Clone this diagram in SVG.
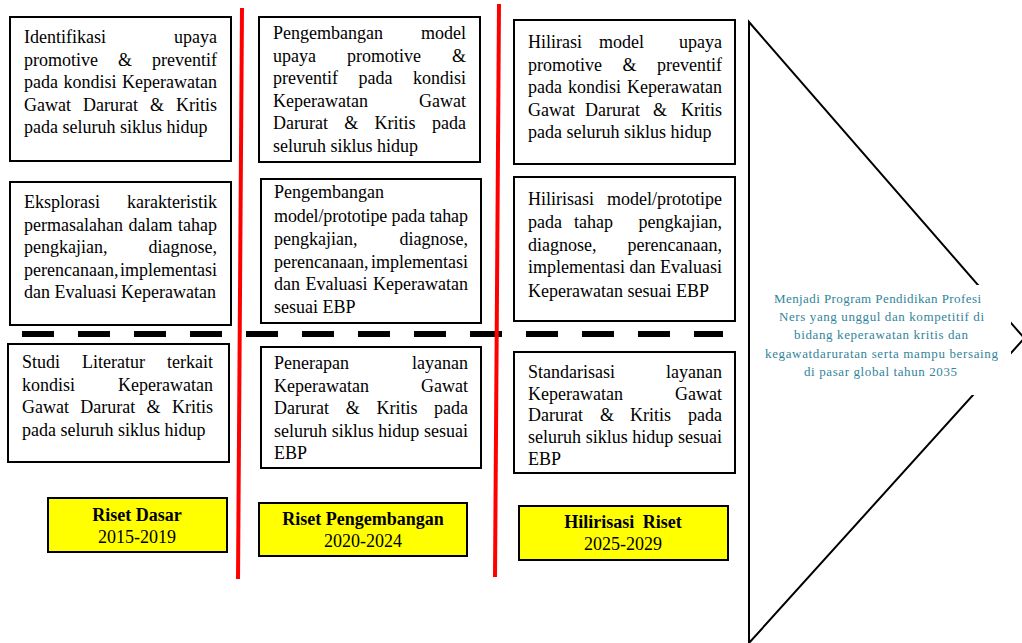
<svg xmlns="http://www.w3.org/2000/svg" width="1022" height="643" viewBox="0 0 1022 643">
<style>
.bg{fill:#fff}
.box{fill:#fff;stroke:#000;stroke-width:2}
.ybox{fill:#ffff00;stroke:#000;stroke-width:2}
.t{font-family:"Liberation Serif","Times New Roman",serif;font-size:18px;fill:#000}
.e{text-anchor:end}
.m{text-anchor:middle}
.b{font-weight:bold}
.red{stroke:#ff0000;stroke-width:4;fill:none}
.dash{stroke:#000;stroke-width:6;stroke-dasharray:32 24;fill:none}
.tri{fill:#fff;stroke:#000;stroke-width:2}
.v{font-family:"Liberation Serif","Times New Roman",serif;font-size:13px;fill:#31849b}
</style>
<rect class="bg" x="0" y="0" width="1022" height="643"/>

<g id="dividers">
<line class="dash" x1="22" y1="334" x2="723" y2="334"/>
<line class="red" x1="242" y1="8" x2="238" y2="579"/>
<line class="red" x1="499" y1="4" x2="495" y2="577"/>
</g>

<g id="vision">
<polygon class="tri" points="749,22 1024.3,338.2 749,643"/>
<rect x="752" y="285" width="259" height="110" fill="#fff"/>
<text class="v" x="774" y="303" textLength="207" lengthAdjust="spacing">Menjadi Program Pendidikan Profesi</text>
<text class="v" x="779" y="321" textLength="205" lengthAdjust="spacing">Ners yang unggul dan kompetitif di</text>
<text class="v" x="794" y="339" textLength="174" lengthAdjust="spacing">bidang keperawatan kritis dan</text>
<text class="v" x="765" y="358" textLength="233" lengthAdjust="spacing">kegawatdaruratan serta mampu bersaing</text>
<text class="v" x="804" y="376" textLength="153" lengthAdjust="spacing">di pasar global tahun 2035</text>
</g>

<g id="box-dasar-1">
<rect class="box" x="10" y="17" width="221" height="144"/>
<text class="t" x="24" y="43">Identifikasi</text><text class="t e" x="217" y="43">upaya</text>
<text class="t" y="66"><tspan x="24">promotive</tspan><tspan x="118">&amp;</tspan></text><text class="t e" x="217" y="66">preventif</text>
<text class="t" y="88"><tspan x="24">pada</tspan><tspan x="63.5">kondisi</tspan></text><text class="t e" x="217" y="88">Keperawatan</text>
<text class="t" y="111"><tspan x="24">Gawat</tspan><tspan x="83">Darurat</tspan><tspan x="150">&amp;</tspan></text><text class="t e" x="217" y="111">Kritis</text>
<text class="t" x="24" y="133">pada seluruh siklus hidup</text>
</g>

<g id="box-dasar-2">
<rect class="box" x="10" y="182" width="221" height="143"/>
<text class="t" x="24" y="208">Eksplorasi</text><text class="t e" x="217" y="208">karakteristik</text>
<text class="t" y="231"><tspan x="24">permasalahan</tspan><tspan x="128.5">dalam</tspan></text><text class="t e" x="217" y="231">tahap</text>
<text class="t" x="24" y="253">pengkajian,</text><text class="t e" x="217" y="253">diagnose,</text>
<text class="t" x="24" y="276">perencanaan,</text><text class="t e" x="217" y="276">implementasi</text>
<text class="t" x="24" y="298">dan Evaluasi Keperawatan</text>
</g>

<g id="box-dasar-3">
<rect class="box" x="8" y="344" width="221" height="118"/>
<text class="t" y="368"><tspan x="22">Studi</tspan><tspan x="82">Literatur</tspan></text><text class="t e" x="213" y="368">terkait</text>
<text class="t" x="22" y="391">kondisi</text><text class="t e" x="213" y="391">Keperawatan</text>
<text class="t" y="413"><tspan x="22">Gawat</tspan><tspan x="80.3">Darurat</tspan><tspan x="146.6">&amp;</tspan></text><text class="t e" x="213" y="413">Kritis</text>
<text class="t" x="22" y="436">pada seluruh siklus hidup</text>
</g>

<g id="box-pengembangan-1">
<rect class="box" x="259" y="17" width="221" height="145"/>
<text class="t" x="273" y="39">Pengembangan</text><text class="t e" x="466" y="39">model</text>
<text class="t" y="62"><tspan x="273">upaya</tspan><tspan x="347">promotive</tspan></text><text class="t e" x="466" y="62">&amp;</text>
<text class="t" y="84"><tspan x="273">preventif</tspan><tspan x="358.5">pada</tspan></text><text class="t e" x="466" y="84">kondisi</text>
<text class="t" x="273" y="107">Keperawatan</text><text class="t e" x="466" y="107">Gawat</text>
<text class="t" y="129"><tspan x="273">Darurat</tspan><tspan x="344.3">&amp;</tspan><tspan x="374.6">Kritis</tspan></text><text class="t e" x="466" y="129">pada</text>
<text class="t" x="273" y="152">seluruh siklus hidup</text>
</g>

<g id="box-pengembangan-2">
<rect class="box" x="261" y="179" width="220" height="144"/>
<text class="t" x="274" y="198">Pengembangan</text>
<text class="t" x="274" y="222" textLength="194" lengthAdjust="spacing">model/prototipe pada tahap</text>
<text class="t" x="274" y="245">pengkajian,</text><text class="t e" x="468" y="245">diagnose,</text>
<text class="t" x="274" y="268">perencanaan,</text><text class="t e" x="468" y="268">implementasi</text>
<text class="t" y="290"><tspan x="274">dan</tspan><tspan x="305.5">Evaluasi</tspan></text><text class="t e" x="468" y="290">Keperawatan</text>
<text class="t" x="274" y="313">sesuai EBP</text>
</g>

<g id="box-pengembangan-3">
<rect class="box" x="261" y="347" width="220" height="121"/>
<text class="t" x="274" y="369">Penerapan</text><text class="t e" x="468" y="369">layanan</text>
<text class="t" x="274" y="392">Keperawatan</text><text class="t e" x="468" y="392">Gawat</text>
<text class="t" y="414"><tspan x="274">Darurat</tspan><tspan x="345.7">&amp;</tspan><tspan x="376.4">Kritis</tspan></text><text class="t e" x="468" y="414">pada</text>
<text class="t" x="274" y="437" textLength="194" lengthAdjust="spacing">seluruh siklus hidup sesuai</text>
<text class="t" x="274" y="459">EBP</text>
</g>

<g id="box-hilirisasi-1">
<rect class="box" x="514" y="20" width="221" height="144"/>
<text class="t" y="48"><tspan x="528">Hilirasi</tspan><tspan x="599">model</tspan></text><text class="t e" x="722" y="48">upaya</text>
<text class="t" y="71"><tspan x="528">promotive</tspan><tspan x="622.5">&amp;</tspan></text><text class="t e" x="722" y="71">preventif</text>
<text class="t" y="93"><tspan x="528">pada</tspan><tspan x="568">kondisi</tspan></text><text class="t e" x="722" y="93">Keperawatan</text>
<text class="t" y="116"><tspan x="528">Gawat</tspan><tspan x="585">Darurat</tspan><tspan x="653">&amp;</tspan></text><text class="t e" x="722" y="116">Kritis</text>
<text class="t" x="528" y="138">pada seluruh siklus hidup</text>
</g>

<g id="box-hilirisasi-2">
<rect class="box" x="514" y="177" width="221" height="144"/>
<text class="t" x="528" y="205">Hilirisasi</text><text class="t e" x="722" y="205">model/prototipe</text>
<text class="t" y="228"><tspan x="528">pada</tspan><tspan x="574">tahap</tspan></text><text class="t e" x="722" y="228">pengkajian,</text>
<text class="t" x="528" y="251">diagnose,</text><text class="t e" x="722" y="251">perencanaan,</text>
<text class="t" y="273"><tspan x="528">implementasi</tspan><tspan x="629.5">dan</tspan></text><text class="t e" x="722" y="273">Evaluasi</text>
<text class="t" x="528" y="297">Keperawatan sesuai EBP</text>
</g>

<g id="box-hilirisasi-3">
<rect class="box" x="514" y="352" width="221" height="121"/>
<text class="t" x="528" y="378">Standarisasi</text><text class="t e" x="722" y="378">layanan</text>
<text class="t" x="528" y="400">Keperawatan</text><text class="t e" x="722" y="400">Gawat</text>
<text class="t" y="421"><tspan x="528">Darurat</tspan><tspan x="600">&amp;</tspan><tspan x="630">Kritis</tspan></text><text class="t e" x="722" y="421">pada</text>
<text class="t" x="528" y="443" textLength="194" lengthAdjust="spacing">seluruh siklus hidup sesuai</text>
<text class="t" x="528" y="465">EBP</text>
</g>

<g id="label-riset-dasar">
<rect class="ybox" x="48" y="498" width="179" height="54"/>
<text class="t m b" x="137" y="521">Riset Dasar</text>
<text class="t m" x="137" y="543">2015-2019</text>
</g>

<g id="label-riset-pengembangan">
<rect class="ybox" x="259" y="503" width="208" height="53"/>
<text class="t m b" x="363" y="525">Riset Pengembangan</text>
<text class="t m" x="363" y="547">2020-2024</text>
</g>

<g id="label-hilirisasi-riset">
<rect class="ybox" x="519" y="506" width="209" height="54"/>
<text class="t m b" x="623" y="528" word-spacing="4">Hilirisasi Riset</text>
<text class="t m" x="623" y="550">2025-2029</text>
</g>
</svg>
